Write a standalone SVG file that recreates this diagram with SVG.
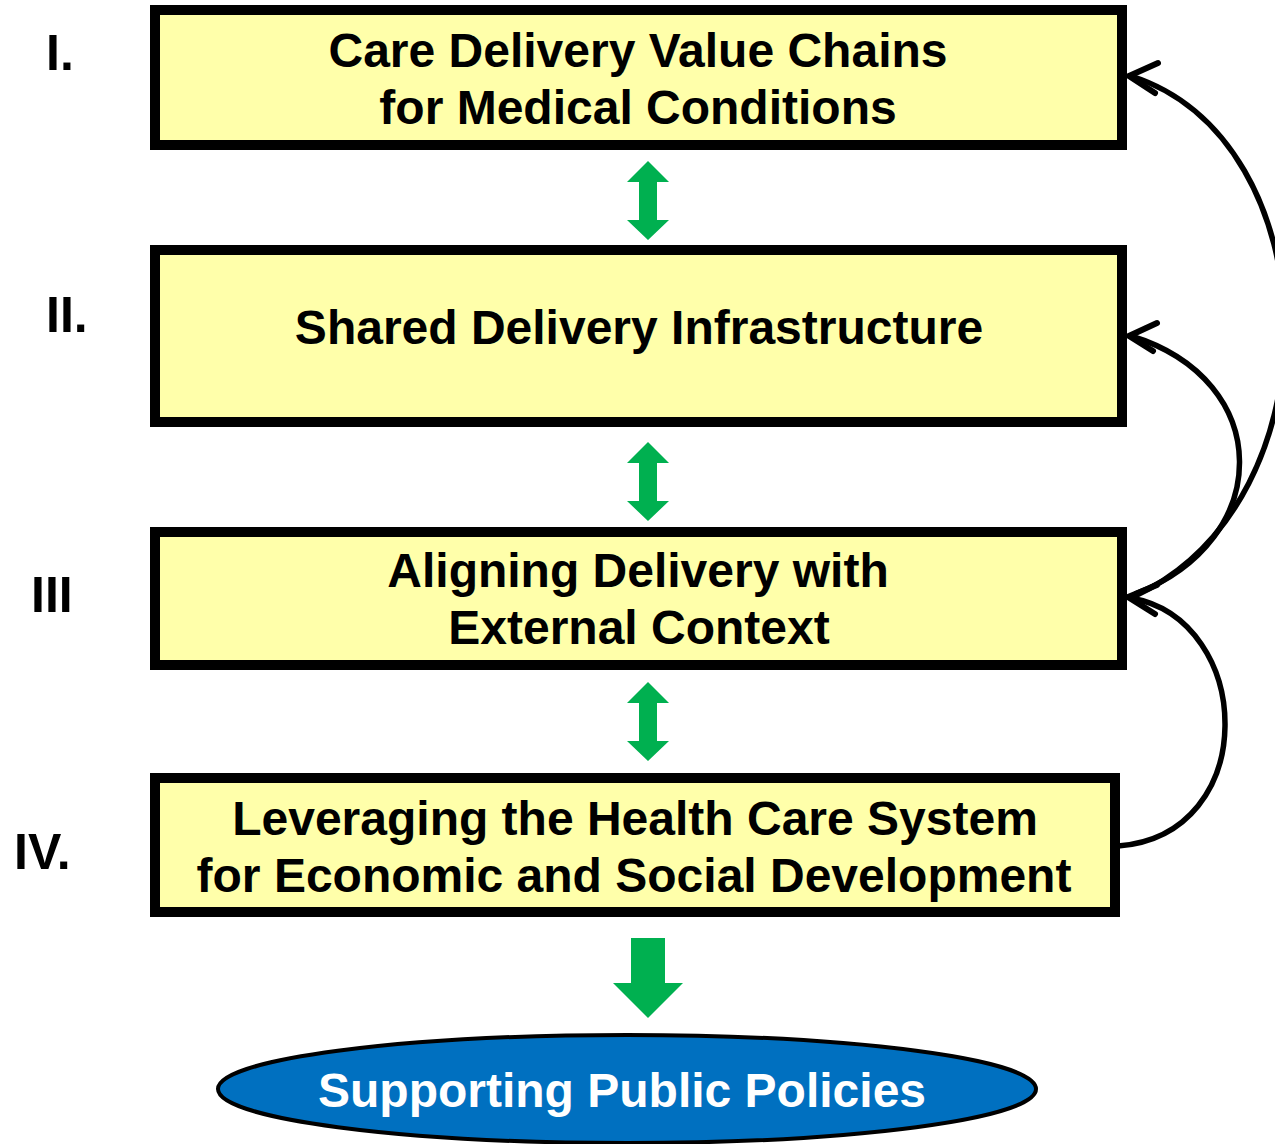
<svg xmlns="http://www.w3.org/2000/svg" width="1275" height="1144" viewBox="0 0 1275 1144">
<style>
.box{fill:#FFFFAA;stroke:#000;stroke-width:10}
.t{font-family:"Liberation Sans",Arial,sans-serif;font-weight:bold;font-size:48px;fill:#000;text-anchor:middle}
.num{font-family:"Liberation Sans",Arial,sans-serif;font-weight:bold;font-size:50px;fill:#000}
.curve{fill:none;stroke:#000;stroke-width:5.5}
.ah{fill:none;stroke:#000;stroke-width:6;stroke-linecap:round;stroke-linejoin:miter}
.g{fill:#00B050}
</style>
<defs>
<path id="dbl" d="M0,0 L21,21 L9,21 L9,59 L21,59 L0,79 L-21,59 L-9,59 L-9,21 L-21,21 Z"/>
</defs>
<rect width="1275" height="1144" fill="#fff"/>
<g id="labels">
<text class="num" x="46" y="70">I.</text>
<text class="num" x="46" y="332">II.</text>
<text class="num" x="31" y="612">III</text>
<text class="num" x="14" y="869">IV.</text>
</g>
<g id="node1">
<rect class="box" x="155" y="10" width="967" height="135"/>
<text class="t" x="638" y="67">Care Delivery Value Chains</text>
<text class="t" x="638" y="124">for Medical Conditions</text>
</g>
<g id="node2">
<rect class="box" x="155" y="250" width="967" height="172"/>
<text class="t" x="639" y="344">Shared Delivery Infrastructure</text>
</g>
<g id="node3">
<rect class="box" x="155" y="532" width="967" height="133"/>
<text class="t" x="638" y="587">Aligning Delivery with</text>
<text class="t" x="639" y="644">External Context</text>
</g>
<g id="node4">
<rect class="box" x="155" y="778" width="960" height="134"/>
<text class="t" x="635" y="835">Leveraging the Health Care System</text>
<text class="t" x="634" y="892">for Economic and Social Development</text>
</g>
<g id="node5">
<ellipse cx="627" cy="1089" rx="409" ry="54" fill="#0070C0" stroke="#000" stroke-width="4"/>
<text class="t" x="622" y="1107" style="fill:#fff">Supporting Public Policies</text>
</g>
<g id="connectors">
<use href="#dbl" class="g" x="648" y="161"/>
<use href="#dbl" class="g" x="648" y="442"/>
<use href="#dbl" class="g" x="648" y="682"/>
<path class="g" d="M631,938 L665,938 L665,983 L683,983 L648,1018 L613,983 L631,983 Z"/>
<path class="curve" d="M1135,596 C1340,500 1330,140 1131,76"/>
<path class="curve" d="M1135,594 C1275,540 1275,380 1131,336"/>
<path class="curve" d="M1118,846 C1262,835 1255,620 1131,598"/>
<path class="ah" d="M1158,63 L1129,76 L1155,93"/>
<path class="ah" d="M1157,323 L1129,336 L1153,351"/>
<path class="ah" d="M1157,585 L1128,597 L1155,614"/>
</g>
</svg>
